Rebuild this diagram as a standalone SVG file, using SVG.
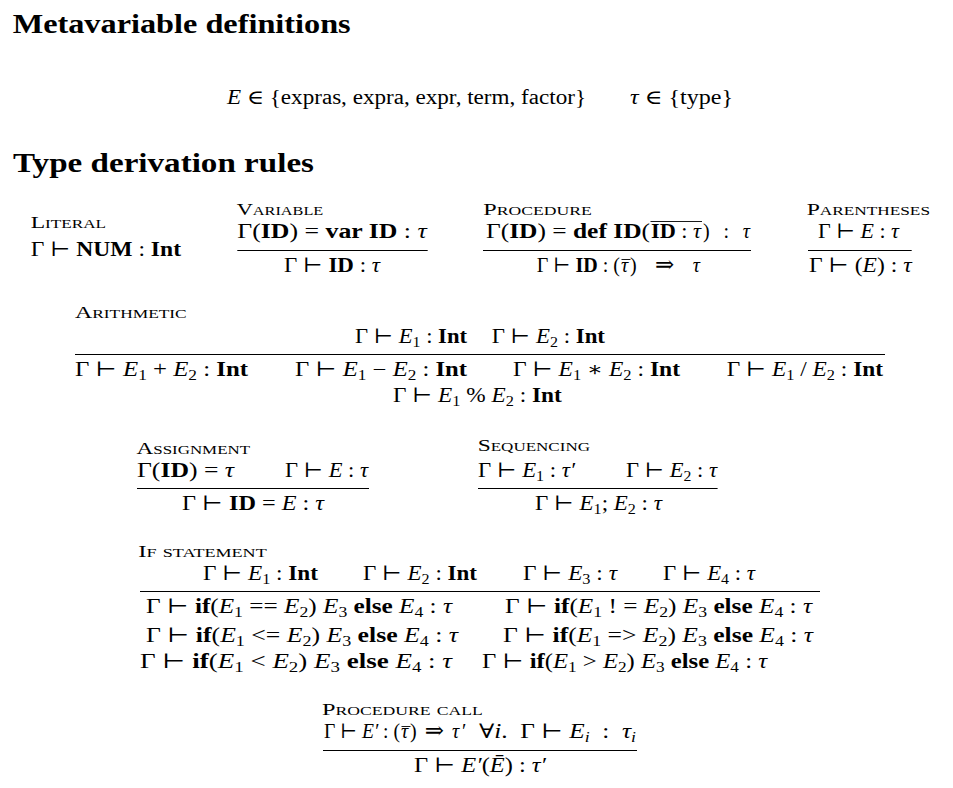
<svg xmlns="http://www.w3.org/2000/svg" width="953" height="788" viewBox="0 0 953 788">
<style>
text{font-family:"Liberation Serif","DejaVu Serif",serif;fill:#000}
.m{font-size:20px}
.h{font-size:27px;font-weight:bold}
.l{font-size:16.5px;font-variant:small-caps}
.b{font-weight:bold}
.i{font-style:italic}
.s{font-size:14px}
.ar{font-size:23px}
.r{stroke:#000;stroke-width:1;fill:none}
.ov{stroke:#000;stroke-width:0.9;fill:none}
</style>
<rect width="953" height="788" fill="#fff"/>
<g id="headings">
<text class="h" x="12.7" y="33.3" textLength="338" lengthAdjust="spacingAndGlyphs">Metavariable definitions</text>
<text class="h" x="13" y="172" textLength="301" lengthAdjust="spacingAndGlyphs">Type derivation rules</text>
</g>
<g id="metavariables">
<text class="m" x="227" y="103.5" textLength="359" lengthAdjust="spacingAndGlyphs"><tspan class="i">E</tspan> ∈ {expras, expra, expr, term, factor}</text>
<text class="m" x="630" y="103.5" textLength="103" lengthAdjust="spacingAndGlyphs"><tspan class="i">τ</tspan> ∈ {type}</text>
</g>
<g id="connectors"/>
<g id="literal">
<text class="l" x="30.7" y="227.7" textLength="75.3" lengthAdjust="spacingAndGlyphs">Literal</text>
<text class="m" x="30.7" y="255.5" textLength="150.3" lengthAdjust="spacingAndGlyphs">Γ ⊢ <tspan class="b">NUM</tspan> : <tspan class="b">Int</tspan></text>
</g>
<g id="variable">
<text class="l" x="236.7" y="215" textLength="86.6" lengthAdjust="spacingAndGlyphs">Variable</text>
<text class="m" x="237.3" y="238" textLength="189.4" lengthAdjust="spacingAndGlyphs">Γ(<tspan class="b">ID</tspan>) = <tspan class="b">var ID</tspan> : <tspan class="i">τ</tspan></text>
<line class="r" x1="237.3" y1="250.5" x2="427.7" y2="250.5"/>
<text class="m" x="284" y="271.7" textLength="96" lengthAdjust="spacingAndGlyphs">Γ ⊢ <tspan class="b">ID</tspan> : <tspan class="i">τ</tspan></text>
</g>
<g id="procedure">
<text class="l" x="483.3" y="215" textLength="108.4" lengthAdjust="spacingAndGlyphs">Procedure</text>
<text class="m" x="486" y="238" textLength="164" lengthAdjust="spacingAndGlyphs">Γ(<tspan class="b">ID</tspan>) = <tspan class="b">def ID</tspan>(</text>
<text class="m" x="651" y="238" textLength="50" lengthAdjust="spacingAndGlyphs"><tspan class="b">ID</tspan> : <tspan class="i">τ</tspan></text>
<line class="ov" x1="650.5" y1="221.5" x2="702" y2="221.5"/>
<text class="m" x="703" y="238" textLength="47" lengthAdjust="spacing">) : <tspan class="i">τ</tspan></text>
<line class="r" x1="483" y1="250.5" x2="751" y2="250.5"/>
<text class="m" x="536.7" y="271.7" textLength="83.3" lengthAdjust="spacingAndGlyphs">Γ ⊢ <tspan class="b">ID</tspan> : (</text>
<text class="m i" x="621" y="271.7">τ</text>
<line class="ov" x1="621.5" y1="259.5" x2="630.5" y2="259.5"/>
<text class="m" x="630" y="271.7" textLength="70" lengthAdjust="spacing">) <tspan class="ar">⇒</tspan> <tspan class="i">τ</tspan></text>
</g>
<g id="parentheses">
<text class="l" x="806.7" y="215" textLength="123.3" lengthAdjust="spacingAndGlyphs">Parentheses</text>
<text class="m" x="818" y="238" textLength="81" lengthAdjust="spacingAndGlyphs">Γ ⊢ <tspan class="i">E</tspan> : <tspan class="i">τ</tspan></text>
<line class="r" x1="808" y1="250.5" x2="911.7" y2="250.5"/>
<text class="m" x="809" y="271.7" textLength="102.7" lengthAdjust="spacingAndGlyphs">Γ ⊢ (<tspan class="i">E</tspan>) : <tspan class="i">τ</tspan></text>
</g>
<g id="arithmetic">
<text class="l" x="75" y="318.3" textLength="111.7" lengthAdjust="spacingAndGlyphs">Arithmetic</text>
<text class="m" x="355" y="342.7" textLength="112" lengthAdjust="spacingAndGlyphs">Γ ⊢ <tspan class="i">E</tspan><tspan class="s" dy="4">1</tspan><tspan dy="-4"> : </tspan><tspan class="b">Int</tspan></text>
<text class="m" x="491.7" y="342.7" textLength="113.3" lengthAdjust="spacingAndGlyphs">Γ ⊢ <tspan class="i">E</tspan><tspan class="s" dy="4">2</tspan><tspan dy="-4"> : </tspan><tspan class="b">Int</tspan></text>
<line class="r" x1="75" y1="354.5" x2="885" y2="354.5"/>
<text class="m" x="75" y="376" textLength="173" lengthAdjust="spacingAndGlyphs">Γ ⊢ <tspan class="i">E</tspan><tspan class="s" dy="4">1</tspan><tspan dy="-4"> + </tspan><tspan class="i">E</tspan><tspan class="s" dy="4">2</tspan><tspan dy="-4"> : </tspan><tspan class="b">Int</tspan></text>
<text class="m" x="295" y="376" textLength="172" lengthAdjust="spacingAndGlyphs">Γ ⊢ <tspan class="i">E</tspan><tspan class="s" dy="4">1</tspan><tspan dy="-4"> − </tspan><tspan class="i">E</tspan><tspan class="s" dy="4">2</tspan><tspan dy="-4"> : </tspan><tspan class="b">Int</tspan></text>
<text class="m" x="513" y="376" textLength="167" lengthAdjust="spacingAndGlyphs">Γ ⊢ <tspan class="i">E</tspan><tspan class="s" dy="4">1</tspan><tspan dy="-4"> ∗ </tspan><tspan class="i">E</tspan><tspan class="s" dy="4">2</tspan><tspan dy="-4"> : </tspan><tspan class="b">Int</tspan></text>
<text class="m" x="726.7" y="376" textLength="156.3" lengthAdjust="spacingAndGlyphs">Γ ⊢ <tspan class="i">E</tspan><tspan class="s" dy="4">1</tspan><tspan dy="-4"> / </tspan><tspan class="i">E</tspan><tspan class="s" dy="4">2</tspan><tspan dy="-4"> : </tspan><tspan class="b">Int</tspan></text>
<text class="m" x="393" y="401.7" textLength="168.7" lengthAdjust="spacingAndGlyphs">Γ ⊢ <tspan class="i">E</tspan><tspan class="s" dy="4">1</tspan><tspan dy="-4"> % </tspan><tspan class="i">E</tspan><tspan class="s" dy="4">2</tspan><tspan dy="-4"> : </tspan><tspan class="b">Int</tspan></text>
</g>
<g id="assignment">
<text class="l" x="136.5" y="453.5" textLength="113.5" lengthAdjust="spacingAndGlyphs">Assignment</text>
<text class="m" x="137" y="476.5" textLength="97" lengthAdjust="spacingAndGlyphs">Γ(<tspan class="b">ID</tspan>) = <tspan class="i">τ</tspan></text>
<text class="m" x="285" y="476.5" textLength="83" lengthAdjust="spacingAndGlyphs">Γ ⊢ <tspan class="i">E</tspan> : <tspan class="i">τ</tspan></text>
<line class="r" x1="137" y1="488.5" x2="369" y2="488.5"/>
<text class="m" x="182" y="510" textLength="142" lengthAdjust="spacingAndGlyphs">Γ ⊢ <tspan class="b">ID</tspan> = <tspan class="i">E</tspan> : <tspan class="i">τ</tspan></text>
</g>
<g id="sequencing">
<text class="l" x="477.7" y="451.3" textLength="112.3" lengthAdjust="spacingAndGlyphs">Sequencing</text>
<text class="m" x="478" y="476.5" textLength="97" lengthAdjust="spacingAndGlyphs">Γ ⊢ <tspan class="i">E</tspan><tspan class="s" dy="4">1</tspan><tspan dy="-4"> : </tspan><tspan class="i">τ′</tspan></text>
<text class="m" x="626" y="476.5" textLength="91" lengthAdjust="spacingAndGlyphs">Γ ⊢ <tspan class="i">E</tspan><tspan class="s" dy="4">2</tspan><tspan dy="-4"> : </tspan><tspan class="i">τ</tspan></text>
<line class="r" x1="478" y1="488.5" x2="717.6" y2="488.5"/>
<text class="m" x="535" y="510" textLength="127" lengthAdjust="spacingAndGlyphs">Γ ⊢ <tspan class="i">E</tspan><tspan class="s" dy="4">1</tspan><tspan dy="-4">; </tspan><tspan class="i">E</tspan><tspan class="s" dy="4">2</tspan><tspan dy="-4"> : </tspan><tspan class="i">τ</tspan></text>
</g>
<g id="if-statement">
<text class="l" x="138.3" y="556.7" textLength="128.4" lengthAdjust="spacingAndGlyphs">If statement</text>
<text class="m" x="203" y="580" textLength="115" lengthAdjust="spacingAndGlyphs">Γ ⊢ <tspan class="i">E</tspan><tspan class="s" dy="4">1</tspan><tspan dy="-4"> : </tspan><tspan class="b">Int</tspan></text>
<text class="m" x="363" y="580" textLength="114" lengthAdjust="spacingAndGlyphs">Γ ⊢ <tspan class="i">E</tspan><tspan class="s" dy="4">2</tspan><tspan dy="-4"> : </tspan><tspan class="b">Int</tspan></text>
<text class="m" x="523" y="580" textLength="94" lengthAdjust="spacingAndGlyphs">Γ ⊢ <tspan class="i">E</tspan><tspan class="s" dy="4">3</tspan><tspan dy="-4"> : </tspan><tspan class="i">τ</tspan></text>
<text class="m" x="663" y="580" textLength="92" lengthAdjust="spacingAndGlyphs">Γ ⊢ <tspan class="i">E</tspan><tspan class="s" dy="4">4</tspan><tspan dy="-4"> : </tspan><tspan class="i">τ</tspan></text>
<line class="r" x1="140" y1="591.5" x2="820" y2="591.5"/>
<text class="m" x="146" y="613.3" textLength="306" lengthAdjust="spacingAndGlyphs">Γ ⊢ <tspan class="b">if</tspan>(<tspan class="i">E</tspan><tspan class="s" dy="4">1</tspan><tspan dy="-4"> == </tspan><tspan class="i">E</tspan><tspan class="s" dy="4">2</tspan><tspan dy="-4">) </tspan><tspan class="i">E</tspan><tspan class="s" dy="4">3</tspan><tspan class="b" dy="-4"> else</tspan> <tspan class="i">E</tspan><tspan class="s" dy="4">4</tspan><tspan dy="-4"> : </tspan><tspan class="i">τ</tspan></text>
<text class="m" x="505" y="613.3" textLength="307" lengthAdjust="spacingAndGlyphs">Γ ⊢ <tspan class="b">if</tspan>(<tspan class="i">E</tspan><tspan class="s" dy="4">1</tspan><tspan dy="-4"> ! = </tspan><tspan class="i">E</tspan><tspan class="s" dy="4">2</tspan><tspan dy="-4">) </tspan><tspan class="i">E</tspan><tspan class="s" dy="4">3</tspan><tspan class="b" dy="-4"> else</tspan> <tspan class="i">E</tspan><tspan class="s" dy="4">4</tspan><tspan dy="-4"> : </tspan><tspan class="i">τ</tspan></text>
<text class="m" x="146" y="641.7" textLength="312" lengthAdjust="spacingAndGlyphs">Γ ⊢ <tspan class="b">if</tspan>(<tspan class="i">E</tspan><tspan class="s" dy="4">1</tspan><tspan dy="-4"> &lt;= </tspan><tspan class="i">E</tspan><tspan class="s" dy="4">2</tspan><tspan dy="-4">) </tspan><tspan class="i">E</tspan><tspan class="s" dy="4">3</tspan><tspan class="b" dy="-4"> else</tspan> <tspan class="i">E</tspan><tspan class="s" dy="4">4</tspan><tspan dy="-4"> : </tspan><tspan class="i">τ</tspan></text>
<text class="m" x="503" y="641.7" textLength="310" lengthAdjust="spacingAndGlyphs">Γ ⊢ <tspan class="b">if</tspan>(<tspan class="i">E</tspan><tspan class="s" dy="4">1</tspan><tspan dy="-4"> =&gt; </tspan><tspan class="i">E</tspan><tspan class="s" dy="4">2</tspan><tspan dy="-4">) </tspan><tspan class="i">E</tspan><tspan class="s" dy="4">3</tspan><tspan class="b" dy="-4"> else</tspan> <tspan class="i">E</tspan><tspan class="s" dy="4">4</tspan><tspan dy="-4"> : </tspan><tspan class="i">τ</tspan></text>
<text class="m" x="140" y="668.3" textLength="312" lengthAdjust="spacingAndGlyphs">Γ ⊢ <tspan class="b">if</tspan>(<tspan class="i">E</tspan><tspan class="s" dy="4">1</tspan><tspan dy="-4"> &lt; </tspan><tspan class="i">E</tspan><tspan class="s" dy="4">2</tspan><tspan dy="-4">) </tspan><tspan class="i">E</tspan><tspan class="s" dy="4">3</tspan><tspan class="b" dy="-4"> else</tspan> <tspan class="i">E</tspan><tspan class="s" dy="4">4</tspan><tspan dy="-4"> : </tspan><tspan class="i">τ</tspan></text>
<text class="m" x="482" y="668.3" textLength="285" lengthAdjust="spacingAndGlyphs">Γ ⊢ <tspan class="b">if</tspan>(<tspan class="i">E</tspan><tspan class="s" dy="4">1</tspan><tspan dy="-4"> &gt; </tspan><tspan class="i">E</tspan><tspan class="s" dy="4">2</tspan><tspan dy="-4">) </tspan><tspan class="i">E</tspan><tspan class="s" dy="4">3</tspan><tspan class="b" dy="-4"> else</tspan> <tspan class="i">E</tspan><tspan class="s" dy="4">4</tspan><tspan dy="-4"> : </tspan><tspan class="i">τ</tspan></text>
</g>
<g id="procedure-call">
<text class="l" x="322" y="715" textLength="160.7" lengthAdjust="spacingAndGlyphs">Procedure call</text>
<text class="m" x="324" y="738.3" textLength="76" lengthAdjust="spacingAndGlyphs">Γ ⊢ <tspan class="i">E′</tspan> : (</text>
<text class="m i" x="401" y="738.3">τ</text>
<line class="ov" x1="401.5" y1="726.5" x2="410.5" y2="726.5"/>
<text class="m" x="410" y="738.3" textLength="55" lengthAdjust="spacing">) <tspan class="ar">⇒</tspan> <tspan class="i">τ′</tspan></text>
<text class="m" x="479" y="738.3" textLength="157" lengthAdjust="spacingAndGlyphs" xml:space="preserve">∀<tspan class="i">i</tspan>.  Γ ⊢ <tspan class="i">E</tspan><tspan class="s i" dy="4">i</tspan><tspan dy="-4">  :  </tspan><tspan class="i">τ</tspan><tspan class="s i" dy="4">i</tspan></text>
<line class="r" x1="323" y1="750.5" x2="637" y2="750.5"/>
<text class="m" x="414" y="771.7" textLength="132" lengthAdjust="spacingAndGlyphs">Γ ⊢ <tspan class="i">E′</tspan>(<tspan class="i">Ē</tspan>) : <tspan class="i">τ′</tspan></text>
</g>
</svg>
